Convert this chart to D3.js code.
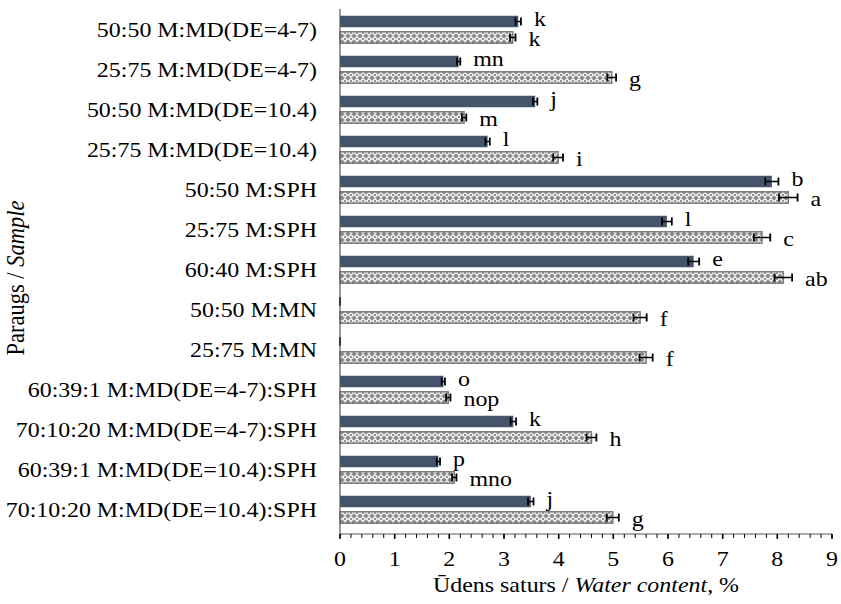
<!DOCTYPE html>
<html>
<head>
<meta charset="utf-8">
<script src="https://cdn.jsdelivr.net/npm/d3@7"></script>
<style>
    body { margin: 0; background: #fff; }
    text { font-family: "Liberation Serif", "Times New Roman", serif; fill: #000; }
</style>
</head>
<body>
<div id="chart"></div>
<script>
const categories = [
    '50:50 M:MD(DE=4-7)',
    '25:75 M:MD(DE=4-7)',
    '50:50 M:MD(DE=10.4)',
    '25:75 M:MD(DE=10.4)',
    '50:50 M:SPH',
    '25:75 M:SPH',
    '60:40 M:SPH',
    '50:50 M:MN',
    '25:75 M:MN',
    '60:39:1 M:MD(DE=4-7):SPH',
    '70:10:20 M:MD(DE=4-7):SPH',
    '60:39:1 M:MD(DE=10.4):SPH',
    '70:10:20 M:MD(DE=10.4):SPH',
];

// dark series
const dark_values = [3.26, 2.17, 3.57, 2.70, 7.90, 5.98, 6.47, 0, 0, 1.89, 3.17, 1.80, 3.49];
const dark_errors = [0.05, 0.03, 0.04, 0.04, 0.12, 0.09, 0.10, 0, 0, 0.03, 0.05, 0.03, 0.05];
const dark_letters = ['k', 'mn', 'j', 'l', 'b', 'l', 'e', '', '', 'o', 'k', 'p', 'j'];

// hatched series
const hatched_values = [3.16, 4.97, 2.27, 3.99, 8.20, 7.72, 8.11, 5.49, 5.60, 1.98, 4.60, 2.09, 4.99];
const hatched_errors = [0.05, 0.08, 0.04, 0.09, 0.17, 0.15, 0.16, 0.12, 0.12, 0.04, 0.09, 0.04, 0.11];
const hatched_letters = ['k', 'g', 'm', 'i', 'a', 'c', 'ab', 'f', 'f', 'nop', 'h', 'mno', 'g'];

const x_ticks = [0, 1, 2, 3, 4, 5, 6, 7, 8, 9];

const width = 841;
const height = 604;
const stretch = 1.14; // text in the reference is drawn wider than tall
const font_size = 21;

const plot = { left: 340, right: 832, top: 9.5, bottom: 529.5, axis_y: 534 };

const svg = d3.select('#chart')
    .append('svg')
    .attr('width', width)
    .attr('height', height);

const defs = svg.append('defs');
const pattern = defs.append('pattern')
    .attr('id', 'diamonds')
    .attr('patternUnits', 'userSpaceOnUse')
    .attr('width', 6)
    .attr('height', 6);
pattern.append('rect')
    .attr('width', 6)
    .attr('height', 6)
    .attr('fill', '#8a8a8a');
pattern.append('path')
    .attr('d', 'M3,0.6 L5.4,3 L3,5.4 L0.6,3 Z')
    .attr('fill', 'none')
    .attr('stroke', '#ffffff')
    .attr('stroke-width', 1.1);

const x = d3.scaleLinear()
    .domain([0, 9])
    .range([plot.left, plot.right]);

const y = d3.scaleBand()
    .domain(categories)
    .range([plot.top, plot.bottom]);

const bar_height = 11.5;
const bar_gap = 4.5;

const series = [
    { name: 'dark', values: dark_values, errors: dark_errors, letters: dark_letters,
      offset: -bar_gap / 2 - bar_height, fill: '#44546a', stroke: 'none', label_dy: -1 },
    { name: 'hatched', values: hatched_values, errors: hatched_errors, letters: hatched_letters,
      offset: bar_gap / 2, fill: 'url(#diamonds)', stroke: '#7f7f7f', label_dy: 3 },
];

function stretched_text(sel, tx, ty, anchor) {
    return sel.append('text')
        .attr('transform', `translate(${tx}, ${ty}) scale(${stretch}, 1)`)
        .attr('text-anchor', anchor)
        .style('font-size', `${font_size}px`);
}

const chart = svg.append('g');

// bars
series.forEach(s => {
    const rows = categories.map((c, i) => ({
        category: c, value: s.values[i], error: s.errors[i], letter: s.letters[i],
    }));
    const center = d => y(d.category) + y.bandwidth() / 2;

    const group = chart.append('g').attr('class', `series-${s.name}`);

    group.selectAll('rect')
        .data(rows.filter(d => d.value > 0))
        .enter()
        .append('rect')
        .attr('x', x(0))
        .attr('y', d => center(d) + s.offset)
        .attr('width', d => x(d.value) - x(0))
        .attr('height', bar_height)
        .attr('fill', s.fill)
        .attr('stroke', s.stroke)
        .attr('stroke-width', s.stroke === 'none' ? 0 : 1.5);

    // error bars
    const err = group.selectAll('.err')
        .data(rows)
        .enter()
        .append('g')
        .attr('class', 'err')
        .attr('transform', d => `translate(0, ${center(d) + s.offset + bar_height / 2})`);

    err.append('line')
        .attr('x1', d => x(d.value - d.error))
        .attr('x2', d => x(d.value + d.error))
        .attr('stroke', '#000')
        .attr('stroke-width', 1.5);

    [-1, 1].forEach(sign => {
        err.append('line')
            .attr('x1', d => x(d.value + sign * d.error))
            .attr('x2', d => x(d.value + sign * d.error))
            .attr('y1', -4)
            .attr('y2', 4)
            .attr('stroke', '#000')
            .attr('stroke-width', 1.8);
    });

    // significance letters
    rows.forEach(d => {
        if (!d.letter) return;
        stretched_text(group, x(d.value + d.error) + 13, center(d) + s.offset + bar_height + s.label_dy, 'start')
            .text(d.letter);
    });
});

// y axis line
chart.append('line')
    .attr('x1', plot.left)
    .attr('x2', plot.left)
    .attr('y1', 9)
    .attr('y2', plot.axis_y)
    .attr('stroke', '#595959')
    .attr('stroke-width', 1.2);

// x axis
const x_axis = chart.append('g');
x_axis.append('line')
    .attr('x1', plot.left)
    .attr('x2', plot.right)
    .attr('y1', plot.axis_y)
    .attr('y2', plot.axis_y)
    .attr('stroke', '#595959')
    .attr('stroke-width', 1.2);

const minor_ticks = d3.range(0, 9.0001, 0.2);
x_axis.selectAll('.minor')
    .data(minor_ticks)
    .enter()
    .append('line')
    .attr('class', 'minor')
    .attr('x1', d => x(d))
    .attr('x2', d => x(d))
    .attr('y1', plot.axis_y)
    .attr('y2', plot.axis_y + 4)
    .attr('stroke', '#000')
    .attr('stroke-width', 1);

x_axis.selectAll('.major')
    .data(x_ticks)
    .enter()
    .append('line')
    .attr('class', 'major')
    .attr('x1', d => x(d))
    .attr('x2', d => x(d))
    .attr('y1', plot.axis_y)
    .attr('y2', plot.axis_y + 5)
    .attr('stroke', '#000')
    .attr('stroke-width', 1.5);

x_ticks.forEach(t => {
    stretched_text(x_axis, x(t), 566, 'middle').text(t);
});

// category labels
categories.forEach(c => {
    stretched_text(chart, 317, y(c) + y.bandwidth() / 2 + 7, 'end').text(c);
});

// axis titles
const x_title = stretched_text(svg, 586, 592, 'middle');
x_title.append('tspan').text('Ūdens saturs / ');
x_title.append('tspan').style('font-style', 'italic').text('Water content');
x_title.append('tspan').text(', %');

const y_title = svg.append('text')
    .attr('transform', `translate(24, 278) rotate(-90) scale(1, ${stretch})`)
    .attr('text-anchor', 'middle')
    .style('font-size', '22.5px');
y_title.append('tspan').text('Paraugs / ');
y_title.append('tspan').style('font-style', 'italic').text('Sample');
</script>
</body>
</html>
